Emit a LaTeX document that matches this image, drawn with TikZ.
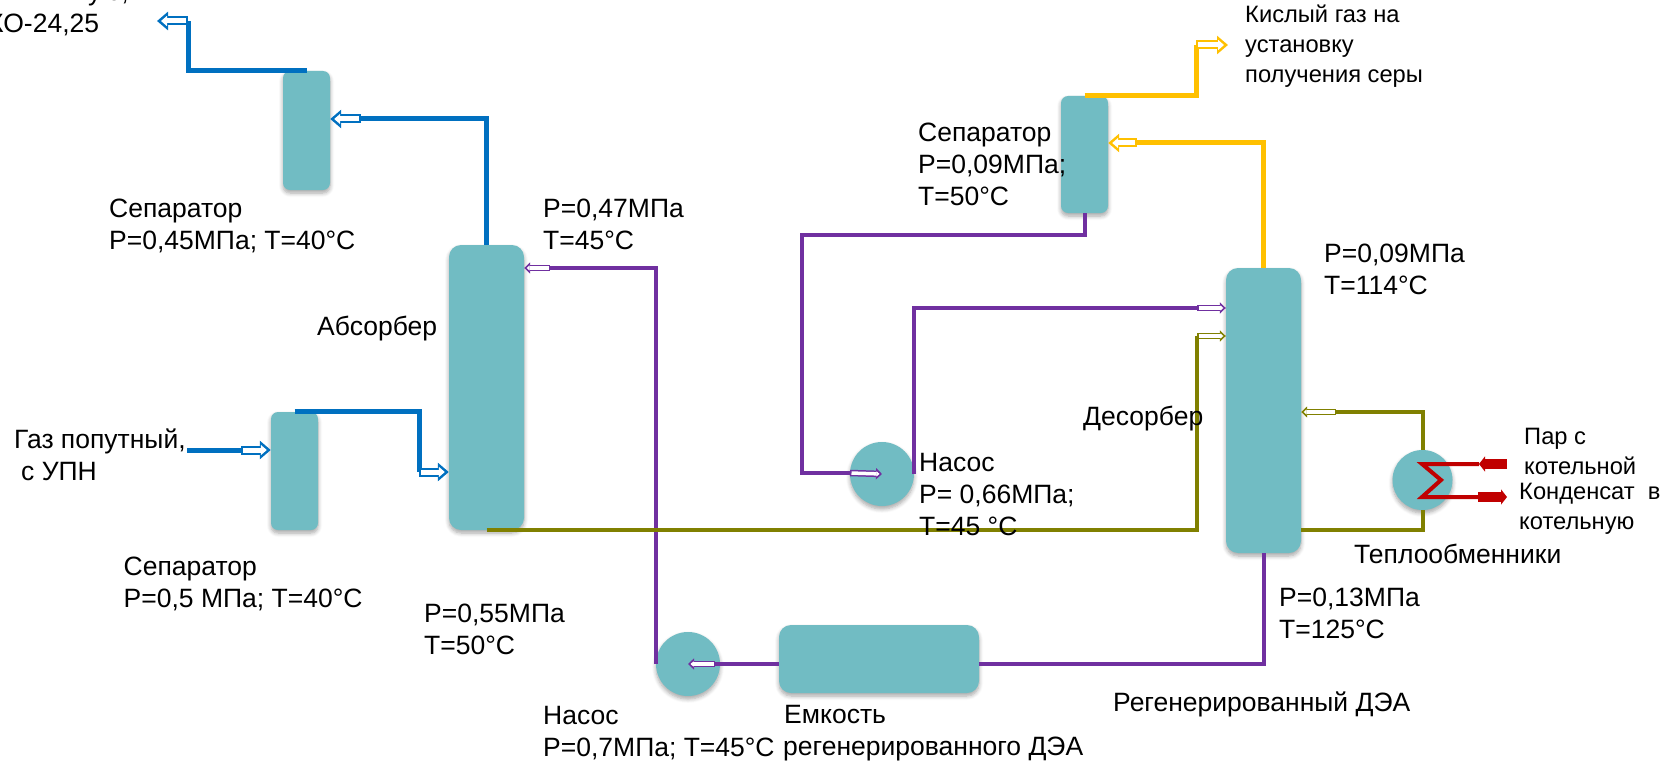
\documentclass[tikz,border=0pt]{standalone}
\usepackage{fontspec}
\setmainfont{Liberation Sans}
\usepackage{tikz}
\usetikzlibrary{arrows.meta}
\usetikzlibrary{shadows.blur}
\definecolor{tankc}{HTML}{71BCC3}
\definecolor{bluec}{HTML}{0070C0}
\definecolor{olivec}{HTML}{808000}
\definecolor{purplec}{HTML}{7030A0}
\definecolor{yellowc}{HTML}{FFC000}
\definecolor{redc}{HTML}{C00000}
\tikzset{
    softshade/.style={blur shadow={shadow xshift=0pt, shadow yshift=-3pt, shadow blur radius=4pt, shadow blur steps=6, shadow opacity=35}},
    tank/.style={fill=tankc, rounded corners=7pt, inner sep=0pt, softshade},
    pump/.style={circle, fill=tankc, inner sep=0pt, softshade},
    label/.style={anchor=west, align=left, inner sep=0pt, yshift=-1.5pt, font=\fontsize{26.5}{32}\selectfont},
    smalllabel/.style={label, font=\fontsize{23.7}{30}\selectfont},
    pipe/.style={draw=#1, line width=5pt},
    thinpipe/.style={draw=#1, line width=4pt},
    hollow/.style={draw=#1, line width=9pt, -{Triangle[length=11pt, width=18pt]},
        postaction={draw=white, line width=5pt, shorten <=2pt, shorten >=4pt, -{Triangle[length=6pt, width=10pt]}}},
    thinhollow/.style={draw=#1, line width=6.5pt, -{Triangle[length=6pt, width=11pt]},
        postaction={draw=white, line width=3.5pt, shorten <=1.5pt, shorten >=2.5pt, -{Triangle[length=3pt, width=5pt]}}},
    fat/.style={draw=redc, line width=10pt, -{Triangle[length=6pt, width=15pt]}}
}
\begin{document}
\begin{tikzpicture}[x=1pt, y=-1pt, node distance=100pt]
    \useasboundingbox (0,0) rectangle (1670,765);

    \node[tank, rounded corners=12pt, minimum width=75pt, minimum height=285pt] (abs) at (486.5,387.5) {};
    \node[tank, minimum width=47pt, minimum height=119pt] (sepA) at (306.5,130.5) {};
    \node[tank, minimum width=47pt, minimum height=118pt, left of=abs, xshift=-92pt, yshift=-83.5pt] (sepB) {};
    \node[tank, rounded corners=12pt, minimum width=75pt, minimum height=285pt] (des) at (1263.5,410.5) {};
    \node[tank, minimum width=47pt, minimum height=117pt] (sepC) at (1084.5,154.5) {};
    \node[tank, rounded corners=12pt, minimum width=200pt, minimum height=68pt] (vessel) at (879,659) {};
    \node[pump, minimum size=64pt] (pumpL) at (688,664) {};
    \node[pump, minimum size=64pt] (pumpR) at (882,474) {};
    \node[pump, minimum size=60pt] (hx) at (1422.5,480) {};

    \coordinate (out) at (157,21);
    \coordinate (aOut) at (188,21);
    \coordinate (aA) at (361,119);
    \coordinate (gas) at (187,450);
    \coordinate (aB) at (241,450);
    \coordinate (aC) at (419,472);
    \coordinate (aD) at (1197,308);
    \coordinate (aE) at (1197,336);
    \coordinate (aF) at (850,473);
    \coordinate (bend) at (802,235);
    \coordinate (aG) at (1336,412);
    \coordinate (aH) at (715,664);
    \coordinate (aI) at (550,268);
    \coordinate (vesIn) at (979,664);
    \coordinate (aJ) at (1137,143);
    \coordinate (aK) at (1196,45);
    \coordinate (acid) at (1228,45);
    \coordinate (desOut) at (1301,530);
    \coordinate (zigA) at (1422,464);
    \coordinate (zigB) at (1441,480);
    \coordinate (zigC) at (1422,497);
    \coordinate (steam) at (1507,464);
    \coordinate (steamTip) at (1479,464);
    \coordinate (cond) at (1478,497);
    \coordinate (condTip) at (1507,497);

    \draw[pipe=bluec] (sepA.north) -| (aOut);
    \draw[hollow=bluec] (aOut) -- (out);
    \draw[pipe=bluec] (abs.north) |- (aA);
    \draw[hollow=bluec] (aA) -- (aA -| sepA.east);
    \draw[pipe=bluec] (gas) -- (aB);
    \draw[hollow=bluec] (aB) -- (aB -| sepB.west);
    \draw[pipe=bluec] (sepB.north) -| (aC);
    \draw[hollow=bluec] (aC) -- (aC -| abs.west);

    \draw[thinpipe=purplec] (pumpL.west) |- (aI);
    \draw[thinhollow=purplec] (aI) -- (aI -| abs.east);
    \draw[thinpipe=purplec] (des.south) |- (vesIn);
    \draw[thinpipe=purplec] (vesIn -| vessel.west) -- (aH);
    \draw[thinhollow=purplec] (aH) -- (pumpL.center);
    \draw[thinpipe=purplec] (sepC.south) |- (bend) |- (aF);
    \draw[thinhollow=purplec] (aF) -- (pumpR.center);
    \draw[thinpipe=purplec] (pumpR.east) |- (aD);
    \draw[thinhollow=purplec] (aD) -- (aD -| des.west);

    \draw[thinpipe=olivec] (abs.south) -| (aE);
    \draw[thinhollow=olivec] (aE) -- (aE -| des.west);
    \draw[thinpipe=olivec] (desOut) -| (hx.south);
    \draw[thinpipe=olivec] (hx.north) |- (aG);
    \draw[thinhollow=olivec] (aG) -- (aG -| des.east);

    \draw[pipe=yellowc] (sepC.north) -| (aK);
    \draw[hollow=yellowc] (aK) -- (acid);
    \draw[pipe=yellowc] (des.north) |- (aJ);
    \draw[hollow=yellowc] (aJ) -- (aJ -| sepC.east);

    \draw[thinpipe=redc] (steamTip) -- (zigA) -- (zigB) -- (zigC) -- (cond);
    \draw[fat] (steam) -- (steamTip);
    \draw[fat] (cond) -- (condTip);

    \node[label] (tOut) at (-12,10) {\hspace*{100pt}ую,\\КО-24,25};
    \node[label] (tSepA) at (109,224) {Сепаратор\\P=0,45МПа; T=40°C};
    \node[label] (tSepB) at (123.5,582) {Сепаратор\\P=0,5 МПа; T=40°C};
    \node[label] (tAbs) at (317,327) {Абсорбер};
    \node[label] (tAbsTop) at (543,223) {P=0,47МПа\\T=45°C};
    \node[label] (tAbsBot) at (424,628) {P=0,55МПа\\T=50°C};
    \node[label] (tGas) at (14,453) {Газ попутный,\\\hspace*{7pt}с УПН};
    \node[label] (tPumpL) at (543,732) {Насос\\P=0,7МПа; T=45°C};
    \node[label] (tVessel) at (783,732) {\hspace*{1pt}Емкость\\регенерированного ДЭА};
    \node[label] (tRegen) at (1113,703) {Регенерированный ДЭА};
    \node[label] (tDesBot) at (1279,612) {P=0,13МПа\\T=125°C};
    \node[label] (tHx) at (1354,552) {Теплообменники};
    \node[smalllabel] (tSteam) at (1524,450) {Пар с\\котельной};
    \node[smalllabel] (tCond) at (1519,507) {Конденсат\ \ в\\котельную};
    \node[label] (tDesTop) at (1324,268) {P=0,09МПа\\T=114°C};
    \node[label] (tPumpR) at (919,493) {Насос\\P= 0,66МПа;\\T=45 °C};
    \node[label] (tDes) at (1083,417) {Десорбер};
    \node[label] (tSepC) at (918,163) {Сепаратор\\P=0,09МПа;\\T=50°C};
    \node[smalllabel] (tAcid) at (1245,45) {Кислый газ на\\установку\\получения серы};
\end{tikzpicture}
\end{document}
